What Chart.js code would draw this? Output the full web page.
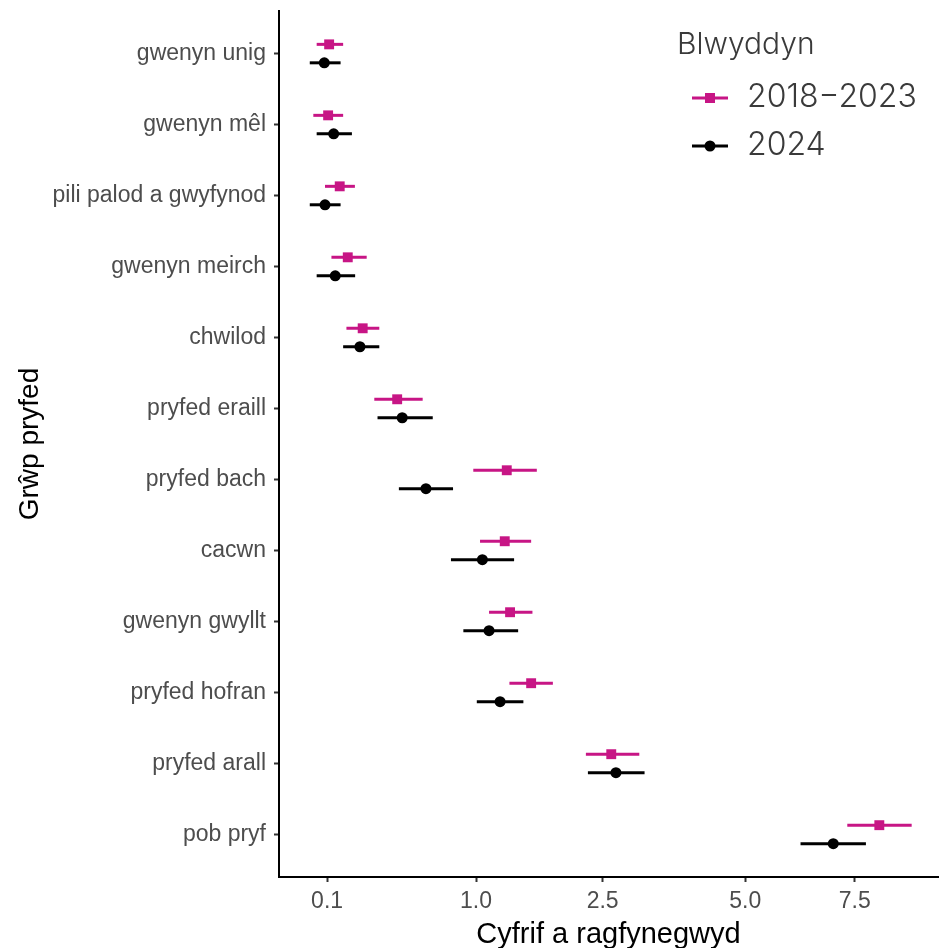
<!DOCTYPE html>
<html lang="cy">
  <head>
    <title>Cyfrif a ragfynegwyd</title>
    <meta charset="UTF-8" />
    <style>
      body { margin: 0; background: #fff; }
      .wrap { width: 939px; height: 948px; }
    </style>
  </head>
  <body>
    <div class="wrap">
      <canvas id="myChart" width="939" height="948"></canvas>
    </div>
    <script src="https://cdn.jsdelivr.net/npm/chart.js@4"></script>
    <script>
      // categories, top to bottom
      var categories = [
        "gwenyn unig", "gwenyn mêl", "pili palod a gwyfynod", "gwenyn meirch",
        "chwilod", "pryfed eraill", "pryfed bach", "cacwn",
        "gwenyn gwyllt", "pryfed hofran", "pryfed arall", "pob pryf"
      ];

      // 2018-2023
      var mid1823 = [0.106, 0.103, 0.140, 0.169, 0.230, 0.407, 1.302, 1.281, 1.337, 1.570, 2.627, 8.131];
      var lo1823  = [0.072, 0.064, 0.094, 0.113, 0.164, 0.284, 0.975, 1.037, 1.123, 1.330, 2.263, 7.314];
      var hi1823  = [0.152, 0.152, 0.197, 0.248, 0.309, 0.570, 1.636, 1.570, 1.585, 1.830, 3.061, 9.000];

      // 2024
      var mid2024 = [0.092, 0.120, 0.094, 0.125, 0.218, 0.437, 0.593, 1.059, 1.123, 1.233, 2.697, 6.970];
      var lo2024  = [0.056, 0.072, 0.056, 0.072, 0.152, 0.300, 0.417, 0.783, 0.887, 1.007, 2.291, 6.199];
      var hi2024  = [0.143, 0.185, 0.143, 0.198, 0.309, 0.642, 0.800, 1.380, 1.424, 1.482, 3.146, 7.784];

      var xTickValues = [0.1, 1, 2.5, 5, 7.5];
      var xTickLabels = ["0.1", "1.0", "2.5", "5.0", "7.5"];
      var seriesNames = ["2018\u22122023", "2024"];

      var PINK = "#C71585";
      var BLACK = "#000000";
      var DODGE = 0.13;
      var FONT = "'Liberation Sans', Arial, sans-serif";

      // square-root x scale
      class SqrtScale extends Chart.LinearScale {
        getPixelForValue(value) {
          var a = Math.sqrt(this.min), b = Math.sqrt(this.max);
          return this.getPixelForDecimal((Math.sqrt(value) - a) / (b - a));
        }
        getValueForPixel(pixel) {
          var a = Math.sqrt(this.min), b = Math.sqrt(this.max);
          var s = a + this.getDecimalForPixel(pixel) * (b - a);
          return s * s;
        }
      }
      SqrtScale.id = "sqrt";
      SqrtScale.defaults = Chart.LinearScale.defaults;
      Chart.register(SqrtScale);

      var series = [
        { mid: mid1823, lo: lo1823, hi: hi1823, color: PINK, offset: -DODGE },
        { mid: mid2024, lo: lo2024, hi: hi2024, color: BLACK, offset: DODGE }
      ];

      function points(s) {
        return s.mid.map(function (v, i) { return { x: v, y: i + s.offset }; });
      }

      // horizontal error bars, drawn under the points
      var errorBars = {
        id: "errorBars",
        beforeDatasetsDraw: function (chart) {
          var ctx = chart.ctx, x = chart.scales.x, y = chart.scales.y;
          ctx.save();
          ctx.lineWidth = 3;
          series.forEach(function (s) {
            ctx.strokeStyle = s.color;
            categories.forEach(function (c, i) {
              var py = y.getPixelForValue(i + s.offset);
              ctx.beginPath();
              ctx.moveTo(x.getPixelForValue(s.lo[i]), py);
              ctx.lineTo(x.getPixelForValue(s.hi[i]), py);
              ctx.stroke();
            });
          });
          ctx.restore();
        }
      };

      // legend inside the panel, ggplot style
      var insideLegend = {
        id: "insideLegend",
        afterDraw: function (chart) {
          var ctx = chart.ctx;
          ctx.save();
          ctx.fillStyle = "#3a3a3a";
          ctx.textBaseline = "alphabetic";
          ctx.textAlign = "left";
          ctx.font = "300 30px Inter, 'Open Sans', sans-serif";
          ctx.fillText("Blwyddyn", 677, 54);
          ctx.font = "300 32px Inter, 'Open Sans', sans-serif";
          var rows = [{ y: 98, text: 107 }, { y: 146, text: 155 }];
          rows.forEach(function (r, i) {
            var col = series[i].color;
            ctx.strokeStyle = col;
            ctx.lineWidth = 3;
            ctx.beginPath();
            ctx.moveTo(692, r.y);
            ctx.lineTo(728, r.y);
            ctx.stroke();
            ctx.fillStyle = col;
            if (i === 0) {
              ctx.fillRect(710 - 5, r.y - 5, 10, 10);
            } else {
              ctx.beginPath();
              ctx.arc(710, r.y, 5.5, 0, Math.PI * 2);
              ctx.fill();
            }
            ctx.fillStyle = "#3a3a3a";
            ctx.fillText(seriesNames[i], 747, r.text);
          });
          ctx.restore();
        }
      };

      var ctx = document.getElementById("myChart");
      var myChart = new Chart(ctx, {
        type: "scatter",
        data: {
          datasets: [
            {
              label: seriesNames[0],
              data: points(series[0]),
              pointStyle: "rect",
              pointRadius: 7,
              pointBorderWidth: 0,
              backgroundColor: PINK,
              borderColor: PINK
            },
            {
              label: seriesNames[1],
              data: points(series[1]),
              pointStyle: "circle",
              pointRadius: 5.5,
              pointBorderWidth: 0,
              backgroundColor: BLACK,
              borderColor: BLACK
            }
          ]
        },
        plugins: [errorBars, insideLegend],
        options: {
          responsive: false,
          animation: false,
          layout: { autoPadding: false, padding: { top: 11, right: 1, left: 0, bottom: 0 } },
          plugins: { legend: { display: false }, tooltip: { enabled: false } },
          scales: {
            x: {
              type: "sqrt",
              min: 0.0091,
              max: 9.74,
              afterBuildTicks: function (scale) {
                scale.ticks = xTickValues.map(function (v) { return { value: v }; });
              },
              afterFit: function (scale) {
                scale.height = 71;
                scale.paddingLeft = 0;
                scale.paddingRight = 0;
              },
              ticks: {
                autoSkip: false,
                maxRotation: 0,
                padding: 6,
                color: "#4D4D4D",
                font: { family: FONT, size: 23 },
                callback: function (value, index) { return xTickLabels[index]; }
              },
              grid: { drawOnChartArea: false, drawTicks: true, tickLength: 5, tickColor: "#333333", tickWidth: 2 },
              border: { display: true, color: "#000000", width: 2 },
              title: {
                display: true,
                text: "Cyfrif a ragfynegwyd",
                color: "#000000",
                padding: { top: -4, bottom: -4 },
                font: { family: FONT, size: 29 }
              }
            },
            y: {
              type: "linear",
              reverse: true,
              min: -0.6,
              max: 11.6,
              afterBuildTicks: function (scale) {
                scale.ticks = categories.map(function (c, i) { return { value: i }; });
              },
              afterFit: function (scale) {
                scale.width = 279;
                scale.paddingTop = 0;
                scale.paddingBottom = 0;
              },
              ticks: {
                autoSkip: false,
                padding: 8,
                color: "#4D4D4D",
                font: { family: FONT, size: 23 },
                callback: function (value, index) { return categories[index]; }
              },
              grid: { drawOnChartArea: false, drawTicks: true, tickLength: 5, tickColor: "#333333", tickWidth: 2 },
              border: { display: true, color: "#000000", width: 2 },
              title: {
                display: true,
                text: "Grŵp pryfed",
                color: "#000000",
                padding: { top: 13, bottom: 0 },
                font: { family: FONT, size: 28 }
              }
            }
          }
        }
      });
    </script>
  </body>
</html>
